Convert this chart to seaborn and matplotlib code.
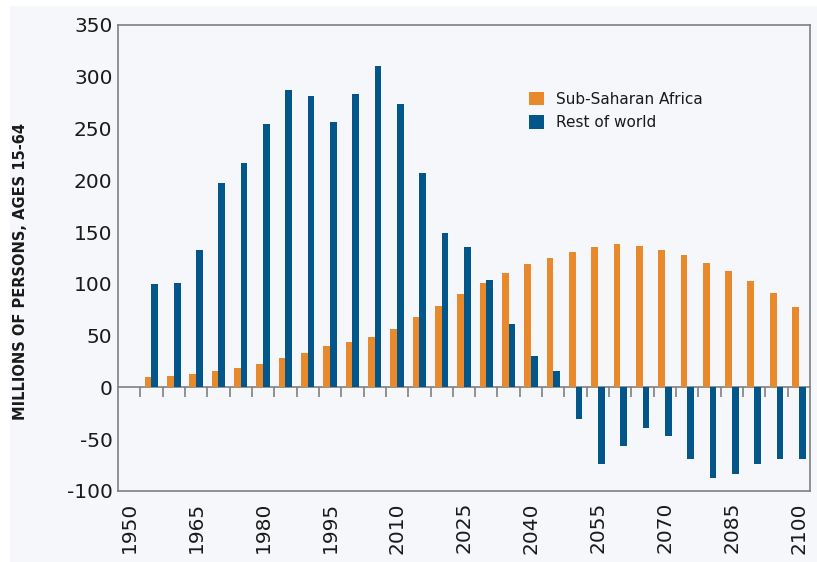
import pandas as pd
import numpy as np
import seaborn as sns
import matplotlib.pyplot as plt
from matplotlib.patches import Rectangle

# 5-year periods; the 1950 slot is left empty in the original chart
periods = [str(y) for y in range(1955, 2101, 5)]
slots = ["1950"] + periods
tick_labels = [str(y) for y in range(1950, 2101, 15)]

ssa = [10, 11, 13, 16, 19, 22.5, 28, 33, 40.5, 44, 49, 56.5, 68, 79, 90,
       101, 110.5, 119, 125, 131, 136, 138.5, 137, 133, 127.5, 120, 112,
       102.5, 91, 78]
rest = [100, 101, 133, 197, 217, 254, 287, 281, 256, 283, 310, 274, 207,
        149, 136, 104, 61, 30, 16, -30, -74, -57, -39, -47, -69, -87, -84,
        -74, -69, -69]

series = ["Sub-Saharan Africa", "Rest of world"]
colors = ["#E8892B", "#02568A"]

df = pd.concat([
    pd.DataFrame({"period": periods, "value": ssa, "region": series[0]}),
    pd.DataFrame({"period": periods, "value": rest, "region": series[1]}),
])

bg = "#f6f7fa"
grey = "#808080"

sns.set_theme(style="white")
plt.rcParams["font.family"] = ["DejaVu Sans"]
plt.rcParams["axes.unicode_minus"] = False

fig = plt.figure(figsize=(8.17, 5.62), dpi=100, facecolor="white")
fig.patches.append(Rectangle((10 / 817, 0), 1, (562 - 6) / 562,
                             transform=fig.transFigure, facecolor=bg,
                             edgecolor="none", zorder=-10))
ax = fig.add_axes([118 / 817, 71 / 562, 692 / 817, 466 / 562])
ax.set_facecolor(bg)

sns.barplot(data=df, x="period", y="value", hue="region", order=slots,
            hue_order=series, palette=colors, width=0.6, gap=0,
            saturation=1, errorbar=None, linewidth=0, ax=ax, zorder=3)

ax.set_ylim(-100, 350)
ax.set_xlim(-0.5, len(slots) - 0.5)
ax.set_yticks(range(-100, 351, 50))
ax.set_xticks([slots.index(t) for t in tick_labels])
ax.set_xticklabels(tick_labels, rotation=90)
ax.tick_params(axis="both", length=0, labelsize=14.5, colors="#1a1a1a")
ax.tick_params(axis="x", pad=8)
ax.tick_params(axis="y", pad=4)

for s in ax.spines.values():
    s.set_color(grey)
    s.set_linewidth(1.2)

# zero line with small ticks between the periods
zero = ax.secondary_xaxis((0 - (-100)) / 450)
zero.spines["bottom"].set_color(grey)
zero.spines["bottom"].set_linewidth(1.2)
zero.set_xticks(np.arange(len(slots) - 1) + 0.5)
zero.set_xticklabels([])
zero.tick_params(axis="x", length=7, width=1.2, color=grey, direction="out")

ax.set_xlabel("")
ax.set_ylabel("MILLIONS OF PERSONS, AGES 15-64", fontsize=10.5,
              fontweight="bold", color="#1a1a1a")
ax.yaxis.set_label_coords(-0.13, 0.47)

handles, labels = ax.get_legend_handles_labels()
ax.legend(handles, labels, loc="upper left", bbox_to_anchor=(0.585, 0.87),
          frameon=False, fontsize=11, handlelength=1.0, handleheight=1.0,
          handletextpad=0.8, labelspacing=0.55, borderaxespad=0,
          labelcolor="#1a1a1a")

fig.savefig("out.png", dpi=100, facecolor=fig.get_facecolor())
